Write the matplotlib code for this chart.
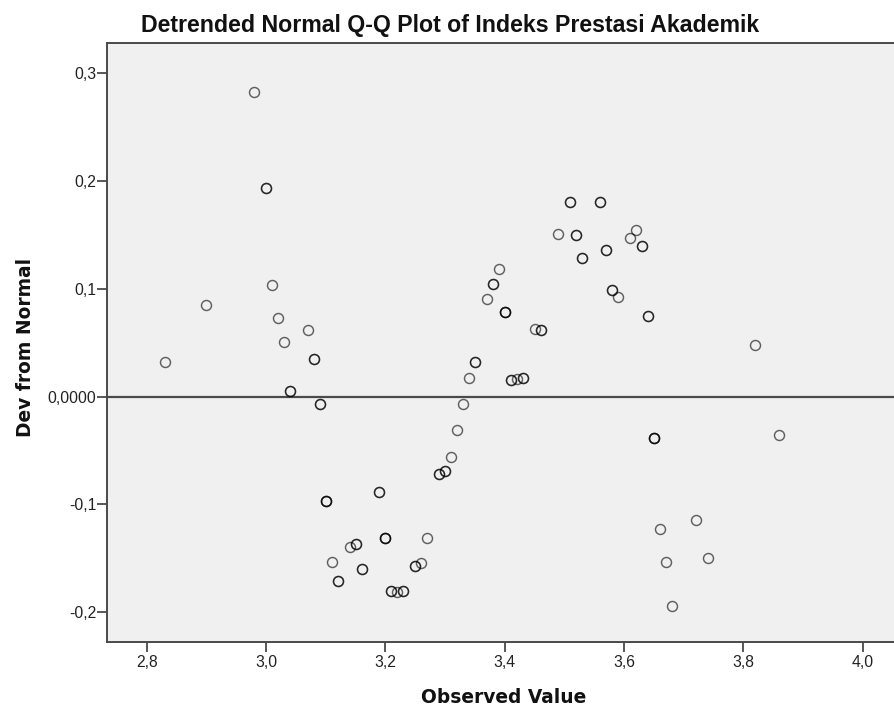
import matplotlib
matplotlib.use("Agg")
import matplotlib.pyplot as plt
from matplotlib.ticker import FixedLocator, FuncFormatter

# ---- data ----
observed = [2.98, 3.00, 3.01, 2.90, 3.02, 3.07, 3.03, 3.08, 2.83, 3.04, 3.09,
            3.35, 3.34, 3.33, 3.32, 3.31, 3.29, 3.30, 3.19, 3.10, 3.20, 3.27,
            3.14, 3.15, 3.11, 3.16, 3.25, 3.26, 3.12, 3.21, 3.22, 3.23,
            3.51, 3.56, 3.49, 3.52, 3.62, 3.61, 3.63, 3.57, 3.53, 3.39, 3.38,
            3.37, 3.58, 3.59, 3.40, 3.64, 3.45, 3.46, 3.41, 3.42, 3.43,
            3.82, 3.65, 3.86, 3.72, 3.66, 3.74, 3.67, 3.68]
dev_from_normal = [0.2825, 0.1939, 0.1033, 0.0850, 0.0729, 0.0620, 0.0503, 0.0348,
                   0.0320, 0.0054, -0.0070,
                   0.0316, 0.0176, -0.0070, -0.0314, -0.0559, -0.0720, -0.0692,
                   -0.0887, -0.0967, -0.1311, -0.1311, -0.1395, -0.1367, -0.1534,
                   -0.1602, -0.1571, -0.1549, -0.1710, -0.1809, -0.1815, -0.1809,
                   0.1809, 0.1809, 0.1509, 0.1500, 0.1549, 0.1469, 0.1400, 0.1357,
                   0.1289, 0.1187, 0.1047, 0.0908, 0.0989, 0.0922, 0.0785, 0.0746,
                   0.0627, 0.0615, 0.0153, 0.0165, 0.0172,
                   0.0478, -0.0388, -0.0360, -0.1147, -0.1230, -0.1497, -0.1537,
                   -0.1948]
cases = [1, 2, 1, 1, 1, 1, 1, 2, 1, 2, 2,
         2, 1, 1, 1, 1, 2, 2, 2, 3, 3, 1, 1, 2, 1, 2, 2, 1, 2, 2, 1, 2,
         2, 2, 1, 2, 1, 1, 2, 2, 2, 1, 2, 1, 2, 1, 3, 2, 1, 2, 2, 1, 2,
         1, 3, 1, 1, 1, 1, 1, 1]

x_ticks = [2.8, 3.0, 3.2, 3.4, 3.6, 3.8, 4.0]
y_ticks = [-0.2, -0.1, 0.0, 0.1, 0.2, 0.3]

title = "Detrended Normal Q-Q Plot of Indeks Prestasi Akademik"
x_label = "Observed Value"
y_label = "Dev from Normal"

# ---- layout ----
W, H = 894, 711
fig = plt.figure(figsize=(W / 100, H / 100), dpi=100, facecolor="white")
left_px, right_px, top_px, bottom_px = 107, 912, 43, 642
ax = fig.add_axes([left_px / W, 1 - bottom_px / H,
                   (right_px - left_px) / W, (bottom_px - top_px) / H])
ax.set_facecolor("#f0f0f0")
ax.set_xlim(2.7334, 4.0826)
ax.set_ylim(-0.2279, 0.3282)

# zero reference line
ax.axhline(0.0, color="#4a4a4a", lw=1.6, zorder=2)

# points (overlapping cases drawn repeatedly -> darker rings)
max_cases = max(cases)
for k in range(max_cases):
    xs = [x for x, c in zip(observed, cases) if c > k]
    ys = [y for y, c in zip(dev_from_normal, cases) if c > k]
    ax.plot(xs, ys, linestyle="none", marker="o", markersize=7.2,
            markerfacecolor="none", markeredgecolor="black",
            markeredgewidth=1.05, alpha=0.6, zorder=3)

# spines
for s in ["left", "bottom", "top"]:
    ax.spines[s].set_color("#4a4a4a")
    ax.spines[s].set_linewidth(1.4)
ax.spines["right"].set_visible(False)

ax.xaxis.set_major_locator(FixedLocator(x_ticks))
ax.xaxis.set_major_formatter(FuncFormatter(lambda v, p: ("%.1f" % v).replace(".", ",")))
ax.yaxis.set_major_locator(FixedLocator(y_ticks))
ax.yaxis.set_major_formatter(FuncFormatter(
    lambda v, p: "0,0000" if abs(v) < 1e-9 else ("%.1f" % v).replace(".", ",")))

ax.tick_params(axis="both", direction="out", length=7, width=1.3,
               color="#4a4a4a", labelcolor="#222222", labelsize=11.3)
ax.tick_params(axis="x", pad=2.5)
ax.tick_params(axis="y", pad=0.8)
for lab in ax.get_xticklabels() + ax.get_yticklabels():
    lab.set_fontfamily("Liberation Sans")

t_title = fig.text(450 / W, 1 - 32 / H, title, ha="center", va="baseline",
                   fontsize=15, fontweight="bold", family="Liberation Sans",
                   color="#111111")
t_x = fig.text(504 / W, 1 - 703 / H, x_label, ha="center", va="baseline",
               fontsize=12, fontweight="bold", family="DejaVu Sans",
               color="#111111")
t_y = fig.text(26 / W, 1 - 347 / H, y_label, ha="center", va="center",
               rotation=90, fontsize=12, fontweight="bold", family="DejaVu Sans",
               color="#111111")

# fit label sizes to the measured extents of the reference
fig.canvas.draw()
r = fig.canvas.get_renderer()
for t, target, horiz in [(t_title, 624, True), (t_x, 165, True), (t_y, 178, False)]:
    bb = t.get_window_extent(r)
    size = bb.width if horiz else bb.height
    t.set_fontsize(t.get_fontsize() * target / size)

fig.savefig("out.png", dpi=100, facecolor="white")
